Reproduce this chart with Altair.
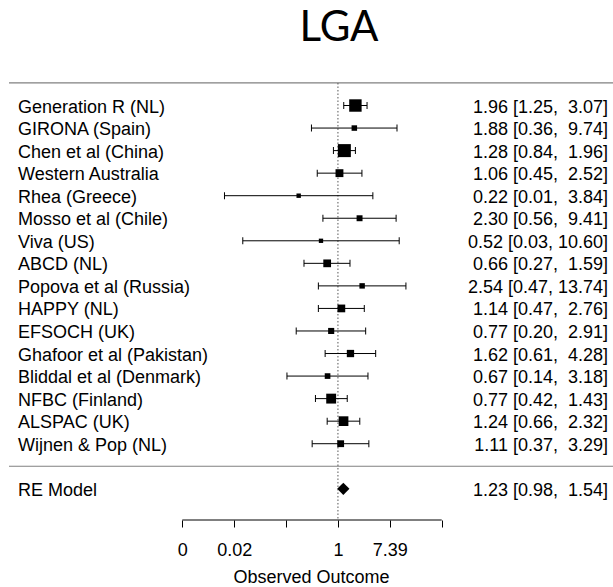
import math
import altair as alt
import pandas as pd

# ---------------- data ----------------
studies = ["Generation R (NL)", "GIRONA (Spain)", "Chen et al (China)", "Western Australia",
           "Rhea (Greece)", "Mosso et al (Chile)", "Viva (US)", "ABCD (NL)",
           "Popova et al (Russia)", "HAPPY (NL)", "EFSOCH (UK)", "Ghafoor et al (Pakistan)",
           "Bliddal et al (Denmark)", "NFBC (Finland)", "ALSPAC (UK)", "Wijnen & Pop (NL)"]
est = [1.96, 1.88, 1.28, 1.06, 0.22, 2.30, 0.52, 0.66, 2.54, 1.14, 0.77, 1.62, 0.67, 0.77, 1.24, 1.11]
lo = [1.25, 0.36, 0.84, 0.45, 0.0126, 0.56, 0.0255, 0.27, 0.47, 0.47, 0.20, 0.61, 0.14, 0.42, 0.66, 0.37]
hi = [3.07, 9.74, 1.96, 2.52, 3.84, 9.41, 10.60, 1.59, 13.74, 2.76, 2.91, 4.28, 3.18, 1.43, 2.32, 3.29]

re_label = "RE Model"
re_est, re_lo, re_hi = 1.23, 0.98, 1.54

tick_values = [-6, -4, -2, 0, 2, 4]
tick_labels = ["0", "0.02", "", "1", "7.39", ""]
title_text = "LGA"
xlab = "Observed Outcome"

FONT = "Liberation Sans"
NB = "\u00a0"


def fmt(e, l, h):
    return f"{e:.2f} [{l:.2f}," + NB + f"{h:.2f}".rjust(5).replace(" ", NB) + "]"


k = len(studies)
recs = []
for i, (s, e, l, h) in enumerate(zip(studies, est, lo, hi)):
    se = (math.log(h) - math.log(l)) / (2 * 1.96)
    recs.append(dict(study=s, row=k - i, le=math.log(e), ll=math.log(l), lh=math.log(h),
                     w=1 / se, txt=fmt(e, l, h)))
df = pd.DataFrame(recs)
wmin, wmax = df.w.min(), df.w.max()
df["psize"] = 0.5 + (df.w - wmin) / (wmax - wmin)

re_df = pd.DataFrame([dict(study=re_label, row=-1, le=math.log(re_est),
                           ll=math.log(re_lo), lh=math.log(re_hi), txt=fmt(re_est, re_lo, re_hi))])
labels_df = pd.concat([df[["study", "row", "txt"]], re_df[["study", "row", "txt"]]], ignore_index=True)

# ---------------- scales ----------------
xs = alt.Scale(domain=[-13.028, 10.603], nice=False, zero=False)
ys = alt.Scale(domain=[-2.384, 20.68], nice=False, zero=False)

label_expr = " : ".join(
    f"datum.value == {v} ? '{t}'" for v, t in zip(tick_values, tick_labels)) + " : ''"

xaxis = alt.Axis(values=tick_values, labelExpr=label_expr, domain=False, grid=False,
                 ticks=True, tickSize=7, tickColor="black", tickWidth=1,
                 labelFont=FONT, labelFontSize=18, labelColor="black", labelPadding=28,
                 labelBaseline="alphabetic", labelOverlap=False, labelFlush=False,
                 title=xlab, titleFont=FONT, titleFontSize=18, titleFontWeight="normal",
                 titleColor="black", titleX=311, titleY=62, titleBaseline="alphabetic",
                 titleAlign="center")


def X(field):
    return alt.X(field, scale=xs, axis=xaxis)


def Y(field):
    return alt.Y(field, scale=ys, axis=None)


base = alt.Chart(df)

ci = base.mark_rule(color="black", strokeWidth=1).encode(
    x=X("ll:Q"), x2="lh:Q", y=Y("row:Q"))
cap_l = base.mark_tick(orient="vertical", size=7, thickness=1, color="black", opacity=1).encode(
    x=X("ll:Q"), y=Y("row:Q"))
cap_h = base.mark_tick(orient="vertical", size=7, thickness=1, color="black", opacity=1).encode(
    x=X("lh:Q"), y=Y("row:Q"))

squares = base.mark_square(filled=True, color="black", opacity=1).encode(
    x=X("le:Q"), y=Y("row:Q"),
    size=alt.Size("psize:Q", scale=alt.Scale(type="pow", exponent=2, domain=[0, 1.5], range=[0, 169]),
                  legend=None),
)

diamond = alt.Chart(re_df).mark_point(shape="diamond", filled=True, size=150, color="black",
                                      opacity=1).encode(x=X("le:Q"), y=Y("row:Q"))

ref = alt.Chart(pd.DataFrame({"x": [0], "y": [k + 1]})).mark_rule(
    color="#555555", strokeWidth=1, strokeDash=[1.5, 2]).encode(
    x=X("x:Q"), y=Y("y:Q"), y2=alt.value(520))

seps = alt.Chart(pd.DataFrame({"y": [k + 1, 0]})).mark_rule(color="#808080", strokeWidth=1.2).encode(
    x=alt.value(9), x2=alt.value(613), y=Y("y:Q"))

axis_line = alt.Chart(pd.DataFrame({"a": [tick_values[0]], "b": [tick_values[-1]]})).mark_rule(
    color="black", strokeWidth=1).encode(x=X("a:Q"), x2="b:Q", y=alt.value(520))

left_txt = alt.Chart(labels_df).mark_text(align="left", baseline="middle", dy=2, font=FONT,
                                          fontSize=18, color="black").encode(
    x=alt.value(18), y=Y("row:Q"), text="study:N")

right_txt = alt.Chart(labels_df).mark_text(align="right", baseline="middle", dy=2, font=FONT,
                                           fontSize=18, color="black").encode(
    x=alt.value(608), y=Y("row:Q"), text="txt:N")

title = alt.Chart(pd.DataFrame({"t": [title_text]})).mark_text(
    font="Lato", fontSize=42, baseline="alphabetic", align="center", color="black").encode(
    x=alt.value(339), y=alt.value(41), text="t:N")

chart = alt.layer(seps, ref, axis_line, ci, cap_l, cap_h, squares, diamond, left_txt, right_txt, title).properties(
    width=613, height=520,
    padding={"left": 0, "top": 0, "right": 0, "bottom": 67},
    autosize=alt.AutoSizeParams(type="none"),
    background="white",
).configure_view(stroke=None)

chart.save("out.html", embed_options={"renderer": "svg", "actions": False})
